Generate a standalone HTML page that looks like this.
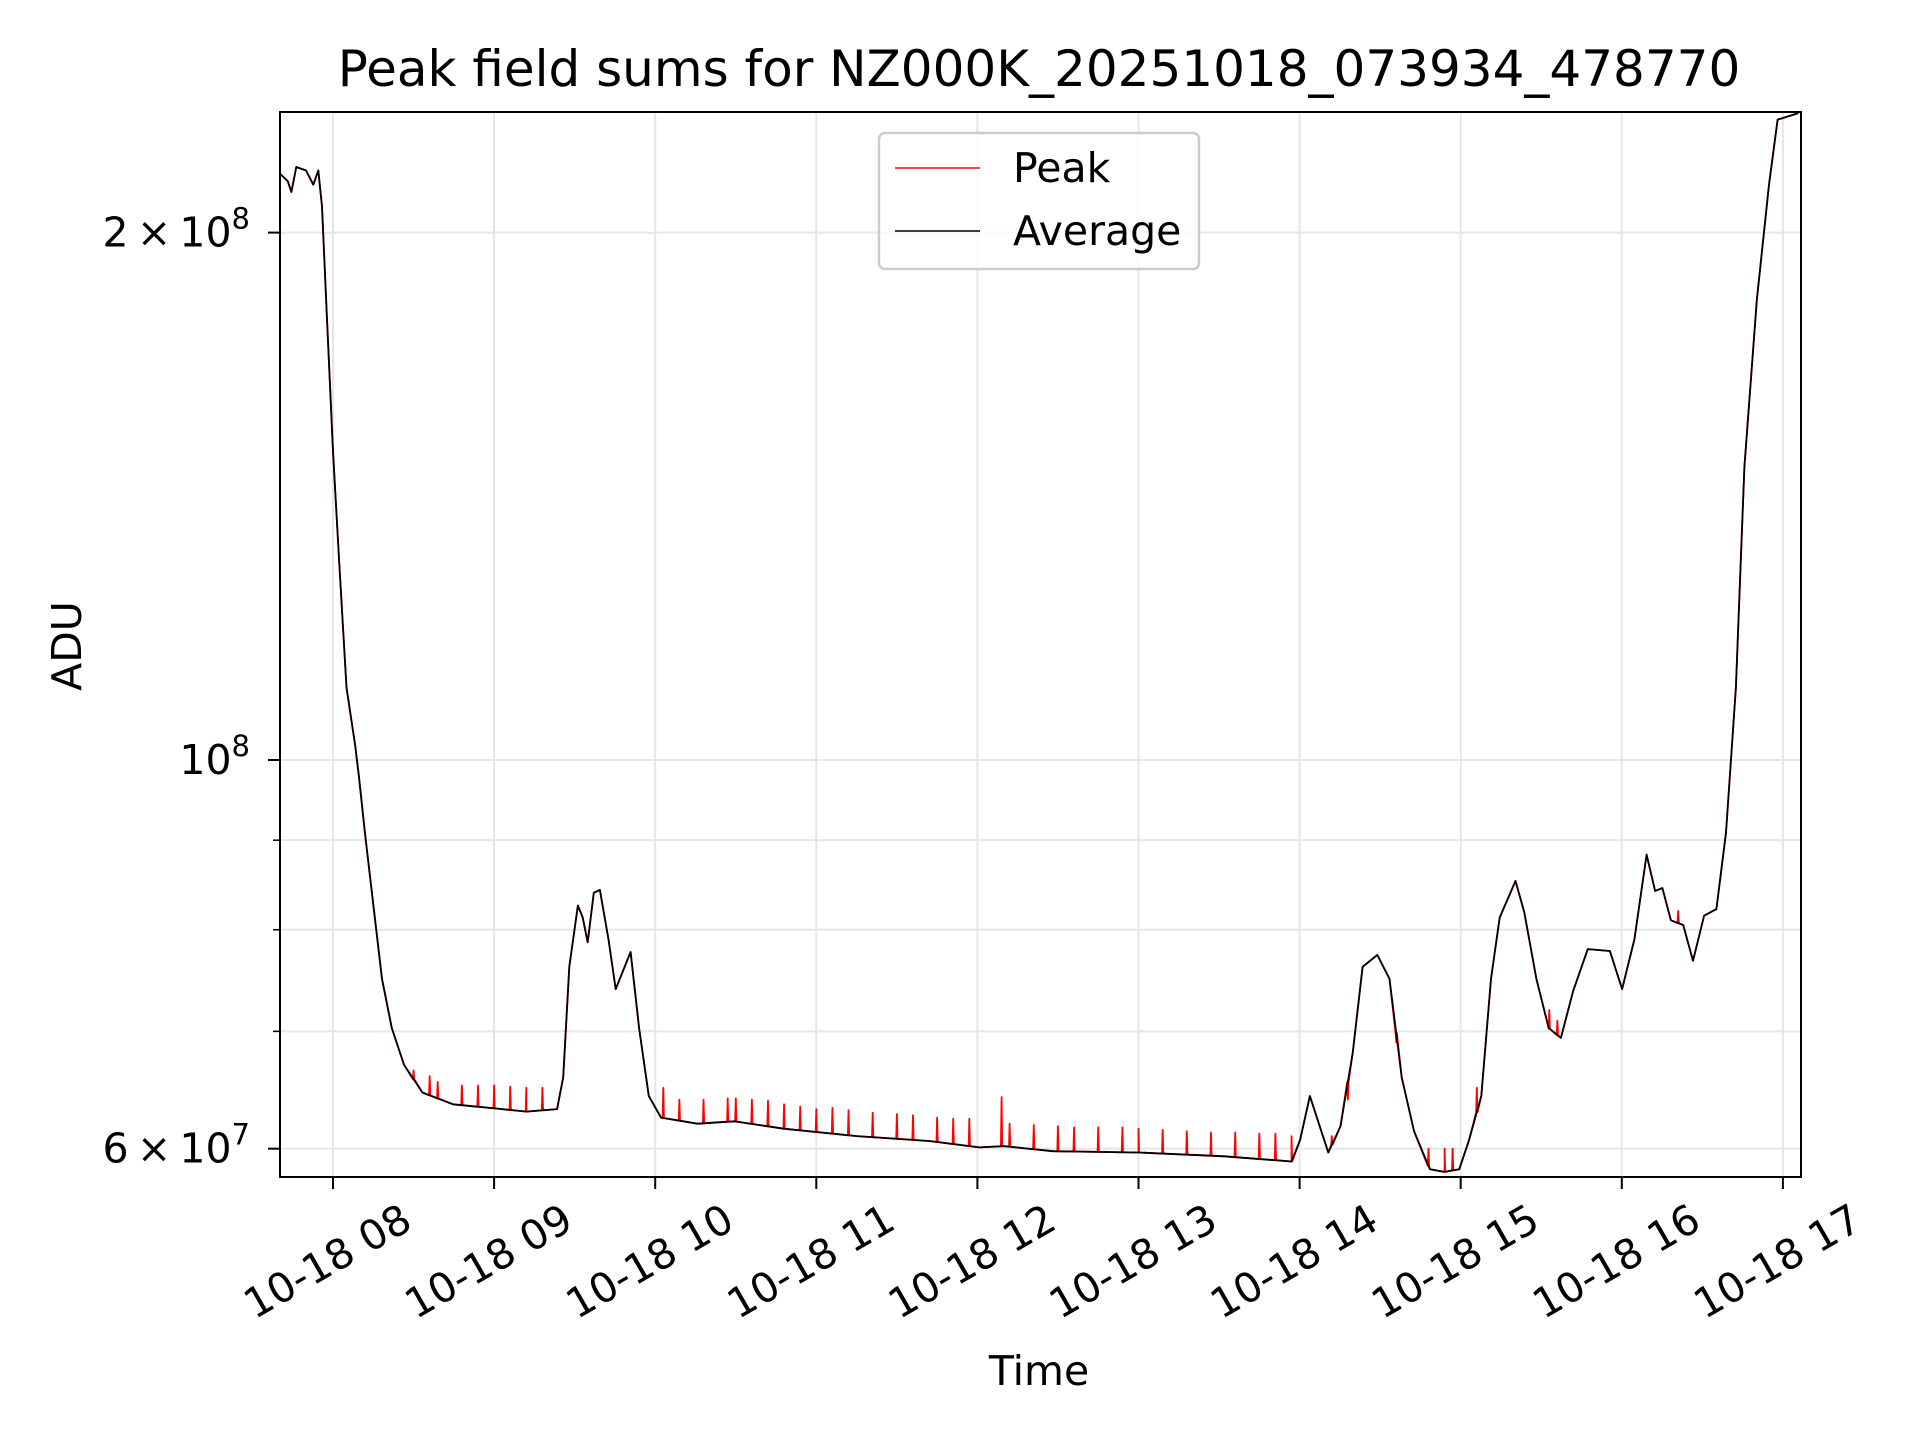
<!DOCTYPE html>
<html><head><meta charset="utf-8"><style>
html,body{margin:0;padding:0;background:#fff}
svg{display:block;font-family:"DejaVu Sans","Liberation Sans",sans-serif}
</style></head><body>
<svg id="chart" width="1920" height="1440" viewBox="0 0 1920 1440" xmlns="http://www.w3.org/2000/svg">
<rect width="1920" height="1440" fill="#fff"/>
<text x="1039" y="86" font-size="50" text-anchor="middle">Peak field sums for NZ000K_20251018_073934_478770</text>
<g id="grid"></g>
<g id="plot"></g>
<g id="axes"></g>
<text x="1039" y="1385" font-size="41" text-anchor="middle">Time</text>
<text x="0" y="0" font-size="41" text-anchor="middle" transform="translate(81,646) rotate(-90)">ADU</text>
<g>
<rect x="879" y="133" width="320" height="136" rx="6" fill="#fff" fill-opacity="0.8" stroke="#ccc" stroke-width="2.5"/>
<line x1="895" y1="168" x2="980" y2="168" stroke="#f00" stroke-width="1.5"/>
<text x="1013" y="182" font-size="41">Peak</text>
<line x1="895" y1="231" x2="980" y2="231" stroke="#000" stroke-width="1.5"/>
<text x="1013" y="245" font-size="41">Average</text>
</g>
</svg>
<script>
const avgHours=[7.673,7.719,7.742,7.772,7.833,7.878,7.909,7.932,7.962,8.0,8.038,8.084,8.137,8.160,8.198,8.251,8.304,8.365,8.441,8.555,8.745,8.973,9.201,9.391,9.429,9.467,9.520,9.550,9.581,9.619,9.657,9.710,9.755,9.847,9.900,9.960,10.036,10.264,10.492,10.796,11.252,11.708,12.012,12.164,12.468,13.0,13.532,13.950,14.003,14.064,14.125,14.178,14.254,14.330,14.391,14.482,14.558,14.634,14.710,14.809,14.900,14.991,15.052,15.128,15.188,15.242,15.340,15.394,15.470,15.546,15.622,15.698,15.789,15.926,16.002,16.078,16.154,16.207,16.252,16.305,16.381,16.442,16.511,16.587,16.647,16.708,16.761,16.838,16.914,16.967,17.096];
const avgValues=[2.16e8,2.14e8,2.11e8,2.18e8,2.17e8,2.13e8,2.17e8,2.07e8,1.79e8,1.50e8,1.30e8,1.10e8,1.02e8,0.98e8,0.909e8,0.826e8,0.75e8,0.703e8,0.67e8,0.646e8,0.636e8,0.633e8,0.630e8,0.632e8,0.659e8,0.762e8,0.826e8,0.813e8,0.787e8,0.84e8,0.843e8,0.79e8,0.74e8,0.777e8,0.703e8,0.643e8,0.625e8,0.620e8,0.622e8,0.616e8,0.610e8,0.606e8,0.601e8,0.602e8,0.598e8,0.597e8,0.594e8,0.590e8,0.607e8,0.643e8,0.618e8,0.597e8,0.618e8,0.681e8,0.762e8,0.774e8,0.75e8,0.659e8,0.614e8,0.584e8,0.582e8,0.584e8,0.607e8,0.643e8,0.75e8,0.813e8,0.853e8,0.819e8,0.75e8,0.703e8,0.694e8,0.738e8,0.78e8,0.778e8,0.74e8,0.79e8,0.883e8,0.842e8,0.845e8,0.81e8,0.805e8,0.768e8,0.815e8,0.822e8,0.909e8,1.10e8,1.47e8,1.83e8,2.13e8,2.32e8,2.34e8];
const spikeHours=[8.5,8.6,8.65,8.8,8.9,9.0,9.1,9.2,9.3,10.05,10.15,10.3,10.45,10.5,10.6,10.7,10.8,10.9,11.0,11.1,11.2,11.35,11.5,11.6,11.75,11.85,11.95,12.15,12.2,12.35,12.5,12.6,12.75,12.9,13.0,13.15,13.3,13.45,13.6,13.75,13.85,13.95,14.2,14.3,14.6,14.8,14.9,14.95,15.1,15.55,15.6,16.35];
const spikeValues=[0.665e8,0.66e8,0.655e8,0.652e8,0.652e8,0.652e8,0.651e8,0.65e8,0.65e8,0.65e8,0.64e8,0.64e8,0.641e8,0.641e8,0.64e8,0.639e8,0.636e8,0.634e8,0.632e8,0.633e8,0.631e8,0.629e8,0.628e8,0.627e8,0.625e8,0.624e8,0.624e8,0.642e8,0.62e8,0.619e8,0.618e8,0.617e8,0.617e8,0.617e8,0.616e8,0.615e8,0.614e8,0.613e8,0.613e8,0.612e8,0.612e8,0.61e8,0.61e8,0.64e8,0.69e8,0.6e8,0.6e8,0.6e8,0.65e8,0.72e8,0.71e8,0.82e8];
const xTickHours=[8,9,10,11,12,13,14,15,16,17];
const xTickLabels=["10-18 08","10-18 09","10-18 10","10-18 11","10-18 12","10-18 13","10-18 14","10-18 15","10-18 16","10-18 17"];
const yMajorValues=[6e7,1e8,2e8];
const yMajorMant=["6","","2"];
const yMajorExp=["7","8","8"];
const yMinorValues=[7e7,8e7,9e7];

const L=280,R=1801,T=112,B=1177;
const X=h=>333+(h-8)*161.1;
const Y=v=>760-Math.log10(v/1e8)*1752;
const NS="http://www.w3.org/2000/svg";
function mk(tag,attrs,parent){const e=document.createElementNS(NS,tag);for(const k in attrs)e.setAttribute(k,attrs[k]);parent.appendChild(e);return e;}
const grid=document.getElementById('grid'),plot=document.getElementById('plot'),axes=document.getElementById('axes');

xTickHours.forEach((h,i)=>{
  const x=X(h);
  const g=mk('line',{x1:x,y1:T,x2:x,y2:B,stroke:'#e6e6e6','stroke-width':2},grid);
  
  
  const t=mk('line',{x1:x,y1:B,x2:x,y2:B+12,stroke:'#000','stroke-width':2},axes);
  
  
  const lb=mk('text',{x:0,y:0,'font-size':41,'text-anchor':'middle','dominant-baseline':'middle',transform:`translate(${x-4},1264) rotate(-30)`},axes);
  lb.textContent=xTickLabels[i];
  
  
});
yMinorValues.concat(yMajorValues).forEach((v,i)=>{
  const y=Y(v);
  const g=mk('line',{x1:L,y1:y,x2:R,y2:y,stroke:'#e6e6e6','stroke-width':2},grid);
  
  
  const major=i>=yMinorValues.length;
  const t=mk('line',{x1:L-(major?12:7),y1:y,x2:L,y2:y,stroke:'#000','stroke-width':major?2:1.5},axes);
  
  
});
yMajorValues.forEach((v,i)=>{
  const y=Y(v);
  const lb=mk('text',{x:250,y:y+14,'font-size':41,'text-anchor':'end'},axes);
  const m=yMajorMant[i];
  lb.appendChild(document.createTextNode((m?m+'\u2009×\u2009':'')+'10'));
  const sup=mk('tspan',{dy:-18,'font-size':29},lb);
  sup.textContent=yMajorExp[i];
  
  
});

function interpAvg(h){for(let i=1;i<avgHours.length;i++){if(avgHours[i]>=h){const f=(h-avgHours[i-1])/(avgHours[i]-avgHours[i-1]);return Math.exp(Math.log(avgValues[i-1])*(1-f)+Math.log(avgValues[i])*f);}}return avgValues[avgValues.length-1];}
let pk=avgHours.map((h,i)=>[h,avgValues[i]]);
spikeHours.forEach((h,i)=>{const b=interpAvg(h);pk.push([h-0.004,b],[h,spikeValues[i]],[h+0.004,b]);});
pk.sort((a,b)=>a[0]-b[0]);
const peak=mk('polyline',{points:pk.map(p=>X(p[0]).toFixed(1)+','+Y(p[1]).toFixed(1)).join(' '),fill:'none',stroke:'#f00','stroke-width':1.8,'stroke-linejoin':'round'},plot);


const avg=mk('polyline',{points:avgHours.map((h,i)=>X(h).toFixed(1)+','+Y(avgValues[i]).toFixed(1)).join(' '),fill:'none',stroke:'#000','stroke-width':1.8,'stroke-linejoin':'round'},plot);


const frame=mk('rect',{x:L,y:T,width:R-L,height:B-T,fill:'none',stroke:'#000','stroke-width':2},axes);


</script>
</body></html>
